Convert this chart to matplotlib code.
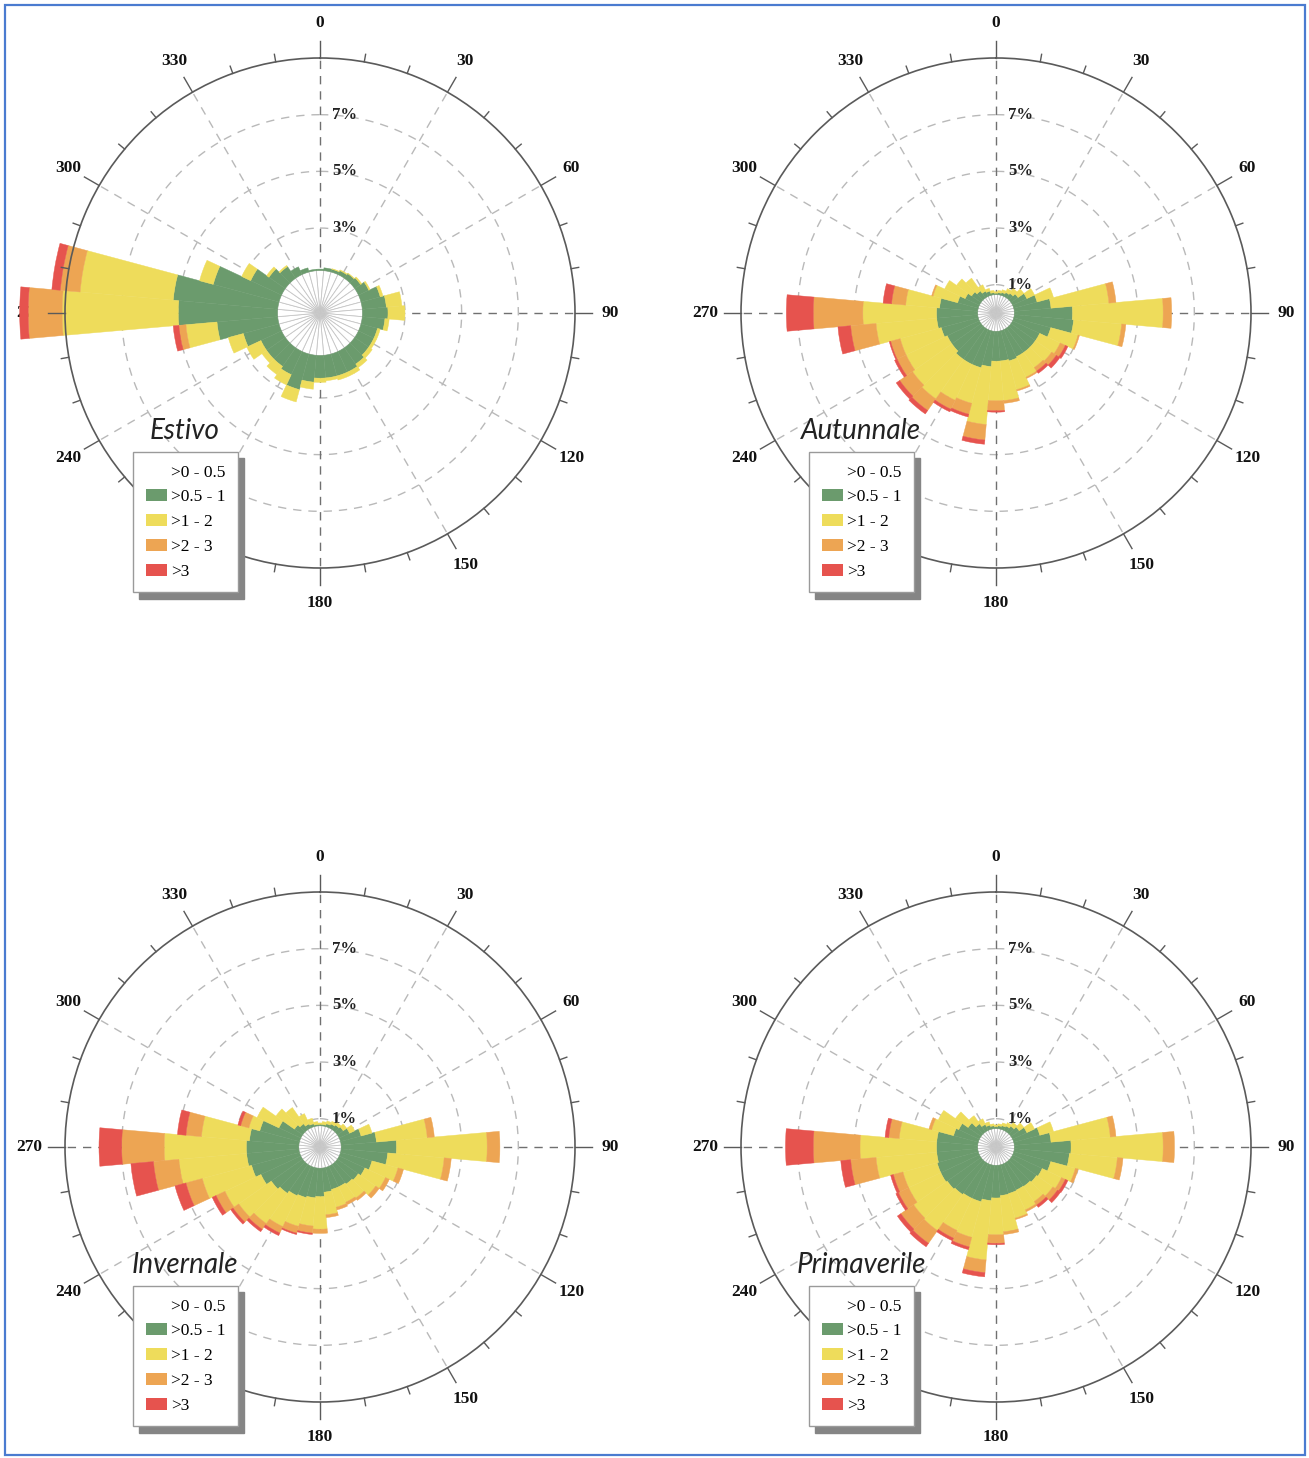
import numpy as np
import matplotlib
matplotlib.use("Agg")
import matplotlib.pyplot as plt
from matplotlib.patches import Patch, Rectangle
from matplotlib.transforms import ScaledTranslation

# ---------------- data ----------------
directions = list(range(0, 360, 10))
speed_classes = [">0 - 0.5", ">0.5 - 1", ">1 - 2", ">2 - 3", ">3"]
class_colors = ["#ffffff", "#6b9b6d", "#eedc5b", "#eda553", "#e6534e"]
seasons = ["Estivo", "Autunnale", "Invernale", "Primaverile"]
angle_ticks = [0, 30, 60, 90, 120, 150, 180, 210, 240, 270, 300, 330]
# the 210 label sits under the legend in the original and is not visible
angle_label_pos = [0, 30, 60, 90, 120, 150, 180, 240, 270, 300, 330]
angle_labels = ["0", "30", "60", "90", "120", "150", "180", "240", "270", "300", "330"]
radial_ticks = [1, 3, 5, 7]
radial_labels = ["1%", "3%", "5%", "7%"]

# frequencies (%) per direction for each speed class
est_c1 = [1.50, 1.50, 1.50, 1.50, 1.50, 1.50, 1.50, 1.50, 1.50, 1.50, 1.50, 1.50,
          1.50, 1.50, 1.50, 1.50, 1.50, 1.50, 1.50, 1.50, 1.50, 1.50, 1.50, 1.50,
          1.50, 1.50, 1.50, 1.50, 1.50, 1.50, 1.50, 1.50, 1.50, 1.50, 1.50, 1.50]
est_c2 = [0.05, 0.10, 0.10, 0.15, 0.20, 0.25, 0.40, 0.70, 0.85, 0.90, 0.80, 0.60,
          0.60, 0.60, 0.70, 0.80, 0.80, 0.80, 0.80, 0.95, 1.30, 0.90, 0.80, 0.80,
          0.80, 1.30, 2.15, 3.50, 3.70, 2.40, 1.20, 0.70, 0.50, 0.30, 0.15, 0.05]
est_c3 = [0.00, 0.00, 0.02, 0.03, 0.02, 0.05, 0.05, 0.10, 0.55, 0.60, 0.15, 0.10,
          0.10, 0.15, 0.15, 0.15, 0.15, 0.10, 0.15, 0.25, 0.45, 0.40, 0.35, 0.20,
          0.55, 0.55, 1.10, 4.10, 3.30, 0.50, 0.35, 0.10, 0.05, 0.00, 0.00, 0.00]
est_c4 = [0, 0, 0, 0, 0, 0, 0, 0, 0, 0, 0, 0,
          0, 0, 0, 0, 0, 0, 0, 0, 0, 0, 0, 0,
          0, 0, 0.25, 1.20, 0.70, 0, 0, 0, 0, 0, 0, 0]
est_c5 = [0, 0, 0, 0, 0, 0, 0, 0, 0, 0, 0, 0,
          0, 0, 0, 0, 0, 0, 0, 0, 0, 0, 0, 0,
          0, 0, 0.20, 0.30, 0.30, 0, 0, 0, 0, 0, 0, 0]

aut_c1 = [0.65, 0.65, 0.65, 0.65, 0.65, 0.65, 0.65, 0.65, 0.65, 0.65, 0.65, 0.65,
          0.65, 0.65, 0.65, 0.65, 0.65, 0.65, 0.65, 0.65, 0.65, 0.65, 0.65, 0.65,
          0.65, 0.65, 0.65, 0.65, 0.65, 0.65, 0.65, 0.65, 0.65, 0.65, 0.65, 0.65]
aut_c2 = [0.05, 0.07, 0.10, 0.15, 0.20, 0.30, 0.55, 0.85, 1.30, 2.05, 2.10, 1.35,
          1.05, 1.05, 1.05, 1.05, 1.10, 1.05, 1.05, 1.25, 1.35, 1.35, 1.35, 1.25,
          1.25, 1.35, 1.45, 1.45, 1.35, 0.75, 0.55, 0.40, 0.30, 0.20, 0.15, 0.07]
aut_c3 = [0.05, 0.08, 0.10, 0.15, 0.20, 0.25, 0.30, 0.60, 2.05, 3.20, 1.70, 1.00,
          0.80, 0.70, 0.65, 0.80, 1.05, 1.40, 1.40, 2.05, 1.30, 1.40, 1.70, 1.70,
          1.60, 1.50, 2.15, 2.60, 1.20, 0.90, 0.80, 0.65, 0.55, 0.25, 0.10, 0.08]
aut_c4 = [0, 0, 0, 0, 0, 0, 0, 0, 0.25, 0.30, 0.15, 0.05,
          0.20, 0.20, 0.15, 0.05, 0.05, 0.10, 0.35, 0.55, 0.40, 0.35, 0.50, 0.55,
          0.35, 0.35, 0.90, 1.75, 0.50, 0.05, 0, 0, 0, 0, 0, 0]
aut_c5 = [0, 0, 0, 0, 0, 0, 0, 0, 0, 0, 0, 0,
          0.10, 0.15, 0.10, 0, 0, 0, 0.05, 0.15, 0.10, 0.10, 0.15, 0.15,
          0.10, 0.05, 0.45, 0.95, 0.30, 0, 0, 0, 0, 0, 0, 0]

inv_c1 = [0.75, 0.75, 0.75, 0.75, 0.75, 0.75, 0.75, 0.75, 0.75, 0.75, 0.75, 0.75,
          0.75, 0.75, 0.75, 0.75, 0.75, 0.75, 0.75, 0.75, 0.75, 0.75, 0.75, 0.75,
          0.75, 0.75, 0.75, 0.75, 0.75, 0.75, 0.75, 0.75, 0.75, 0.75, 0.75, 0.75]
inv_c2 = [0.05, 0.05, 0.10, 0.15, 0.20, 0.25, 0.40, 0.75, 1.25, 1.95, 1.65, 1.15,
          1.00, 0.90, 0.85, 0.80, 0.80, 0.85, 1.00, 1.05, 1.10, 1.15, 1.25, 1.35,
          1.55, 1.75, 1.85, 1.85, 1.75, 1.45, 0.85, 0.35, 0.25, 0.15, 0.10, 0.05]
inv_c3 = [0.05, 0.10, 0.10, 0.10, 0.10, 0.15, 0.20, 0.40, 1.80, 3.20, 2.00, 0.95,
          0.80, 0.75, 0.60, 0.60, 0.65, 0.80, 1.15, 1.00, 1.05, 1.20, 1.30, 1.40,
          1.40, 1.80, 2.40, 2.90, 1.70, 0.40, 0.85, 0.80, 0.70, 0.40, 0.20, 0.10]
inv_c4 = [0, 0, 0, 0, 0, 0, 0, 0, 0.25, 0.45, 0.25, 0.20,
          0.15, 0.15, 0.10, 0.10, 0.10, 0.10, 0.15, 0.25, 0.25, 0.25, 0.25, 0.25,
          0.35, 0.60, 0.90, 1.50, 0.55, 0.30, 0, 0, 0, 0, 0, 0]
inv_c5 = [0, 0, 0, 0, 0, 0, 0, 0, 0, 0, 0, 0,
          0, 0, 0, 0, 0, 0, 0, 0.05, 0.05, 0.10, 0.10, 0.10,
          0.15, 0.40, 0.80, 0.80, 0.30, 0.10, 0, 0, 0, 0, 0, 0]

pri_c1 = [0.65, 0.65, 0.65, 0.65, 0.65, 0.65, 0.65, 0.65, 0.65, 0.65, 0.65, 0.65,
          0.65, 0.65, 0.65, 0.65, 0.65, 0.65, 0.65, 0.65, 0.65, 0.65, 0.65, 0.65,
          0.65, 0.65, 0.65, 0.65, 0.65, 0.65, 0.65, 0.65, 0.65, 0.65, 0.65, 0.65]
pri_c2 = [0.07, 0.10, 0.13, 0.17, 0.25, 0.35, 0.55, 0.95, 1.30, 2.00, 1.95, 1.35,
          1.15, 1.10, 1.05, 1.03, 1.05, 1.07, 1.15, 1.25, 1.35, 1.35, 1.40, 1.45,
          1.50, 1.50, 1.45, 1.45, 1.45, 0.90, 0.80, 0.55, 0.35, 0.23, 0.15, 0.10]
pri_c3 = [0.06, 0.07, 0.10, 0.13, 0.15, 0.20, 0.30, 0.50, 2.10, 3.25, 1.70, 0.90,
          0.75, 0.70, 0.65, 0.77, 0.90, 1.28, 1.30, 2.10, 1.30, 1.25, 1.55, 1.45,
          1.25, 1.25, 2.15, 2.70, 1.33, 0.80, 0.80, 0.55, 0.35, 0.22, 0.12, 0.07]
pri_c4 = [0, 0, 0, 0, 0, 0, 0, 0, 0.20, 0.40, 0.20, 0.10,
          0.15, 0.20, 0.15, 0.07, 0.05, 0.10, 0.30, 0.45, 0.35, 0.30, 0.55, 0.55,
          0.40, 0.35, 0.90, 1.65, 0.37, 0.10, 0, 0, 0, 0, 0, 0]
pri_c5 = [0, 0, 0, 0, 0, 0, 0, 0, 0, 0, 0, 0,
          0.10, 0.13, 0.10, 0, 0, 0, 0.05, 0.15, 0.10, 0.10, 0.15, 0.15,
          0.10, 0.10, 0.35, 0.98, 0.13, 0, 0, 0, 0, 0, 0, 0]

season_data = {
    "Estivo": [est_c1, est_c2, est_c3, est_c4, est_c5],
    "Autunnale": [aut_c1, aut_c2, aut_c3, aut_c4, aut_c5],
    "Invernale": [inv_c1, inv_c2, inv_c3, inv_c4, inv_c5],
    "Primaverile": [pri_c1, pri_c2, pri_c3, pri_c4, pri_c5],
}

# ---------------- layout ----------------
W, H = 1309, 1458
fig = plt.figure(figsize=(W / 100, H / 100), dpi=100)
fig.patch.set_facecolor("white")
R_PX = 255
RMAX = 9
centers = [(320, 313), (996, 313), (320, 1147), (996, 1147)]
serif = ["Liberation Serif", "DejaVu Serif"]

theta = np.radians(directions)
bar_w = np.radians(10)
circ = np.linspace(0, 2 * np.pi, 721)

for season, (cx, cy) in zip(seasons, centers):
    ax = fig.add_axes([(cx - R_PX) / W, 1 - (cy + R_PX) / H, 2 * R_PX / W, 2 * R_PX / H],
                      projection="polar")
    ax.set_theta_zero_location("N")
    ax.set_theta_direction(-1)
    ax.set_ylim(0, RMAX)
    ax.set_xticks([])
    ax.set_yticks([])
    ax.grid(False)
    ax.patch.set_alpha(0)
    ax.spines["polar"].set_color("#5a5a5a")
    ax.spines["polar"].set_linewidth(1.2)
    ax.spines["polar"].set_zorder(4)

    # dashed grid circles
    for rr in radial_ticks:
        ax.plot(circ, np.full_like(circ, rr), ls=(0, (6, 5)), color="#b9b9b9", lw=1.0, zorder=1)
    # dashed spokes
    for a in angle_ticks:
        col = "#707070" if a % 90 == 0 else "#b9b9b9"
        ax.plot([np.radians(a)] * 2, [0, RMAX], ls=(0, (6, 5)), color=col, lw=1.0, zorder=1)
    # ticks on the outer circle
    for a in range(0, 360, 10):
        ln = 0.6 if a % 30 == 0 else 0.27
        ax.plot([np.radians(a)] * 2, [RMAX, RMAX + ln], color="#5a5a5a", lw=1.0,
                clip_on=False, zorder=4)
    # angle labels
    for a, lab in zip(angle_label_pos, angle_labels):
        ax.text(np.radians(a), 10.25, lab, ha="center", va="center", fontsize=12.5,
                fontweight="bold", family=serif, color="#111111", clip_on=False, zorder=1)
    # radial labels
    offs = ScaledTranslation(12 / 100, 0, fig.dpi_scale_trans)
    for rr, lab in zip(radial_ticks, radial_labels):
        ax.text(0, rr, lab, transform=ax.transData + offs, ha="left", va="center",
                fontsize=12, fontweight="bold", family=serif, color="#222222", zorder=2)

    # stacked bars
    bottom = np.zeros(len(directions))
    for i, vals in enumerate(season_data[season]):
        vals = np.asarray(vals, dtype=float)
        m = vals > 0
        if i == 0:
            ax.bar(theta[m], vals[m], width=bar_w, bottom=bottom[m], color="white",
                   edgecolor="#c6c6c6", linewidth=0.6, zorder=3, clip_on=False)
        else:
            ax.bar(theta[m], vals[m], width=bar_w, bottom=bottom[m], color=class_colors[i],
                   edgecolor=class_colors[i], linewidth=0.3, zorder=3, clip_on=False)
        bottom += vals

    # season title
    fig.text((cx - 135) / W, 1 - (cy + 118) / H, season, ha="center", va="center",
             fontsize=20, style="italic", family=["Lato", "DejaVu Sans"], color="#222222")

    # legend
    handles = [Patch(facecolor=c, edgecolor="none") for c in class_colors]
    leg = ax.legend(handles, speed_classes, loc="upper left",
                    bbox_to_anchor=((cx - 187) / W, 1 - (cy + 139) / H),
                    bbox_transform=fig.transFigure, borderaxespad=0, borderpad=0.72,
                    handlelength=1.25, handleheight=0.7, handletextpad=0.2,
                    labelspacing=0.5, fancybox=False, framealpha=1,
                    edgecolor="#9a9a9a", prop={"family": serif, "size": 12.5},
                    shadow={"color": "#858585", "alpha": 1, "ox": 4.5, "oy": -4.5})
    leg.get_frame().set_linewidth(1.0)
    leg.set_zorder(6)

# blue outer border
fig.add_artist(Rectangle((5 / W, 3 / H), 1300 / W, 1450 / H, transform=fig.transFigure,
                         fill=False, edgecolor="#4a7bd0", lw=1.6))

fig.savefig("out.png", dpi=100, facecolor="white")
